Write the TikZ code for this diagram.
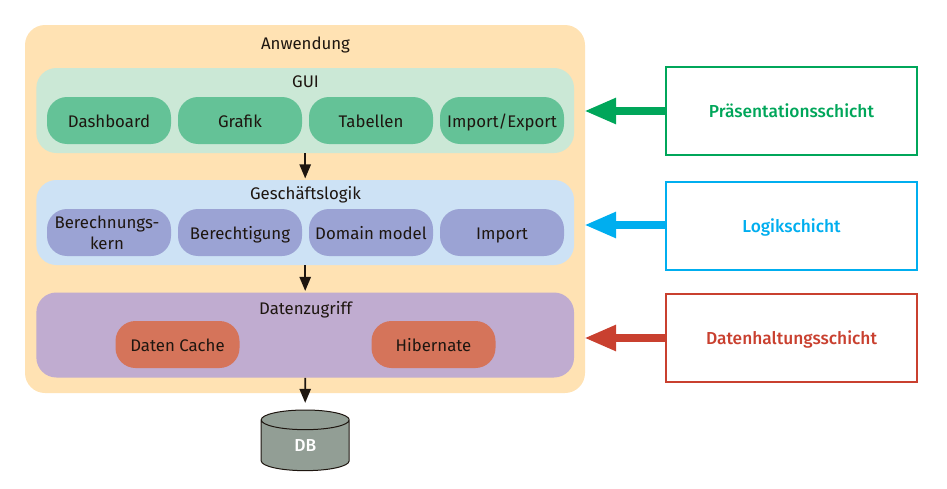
\documentclass[tikz,border=0pt]{standalone}
\usepackage{fontspec}
\setmainfont{Fira Sans}
\usetikzlibrary{arrows.meta,shapes.geometric}
\definecolor{appFill}{HTML}{FFE2B3}
\definecolor{guiFill}{HTML}{CBE8D6}
\definecolor{guiBox}{HTML}{64C297}
\definecolor{logicFill}{HTML}{CDE2F5}
\definecolor{logicBox}{HTML}{9BA3D4}
\definecolor{dataFill}{HTML}{C0ACD0}
\definecolor{dataBox}{HTML}{D5745A}
\definecolor{dbFill}{HTML}{929E95}
\definecolor{presGreen}{HTML}{00A65A}
\definecolor{logicBlue}{HTML}{00AEEF}
\definecolor{dataRed}{HTML}{C9402F}
\definecolor{inkDark}{HTML}{1E1610}
\begin{document}
\begin{tikzpicture}[
    x=0.75pt,y=-0.75pt,
    font=\fontsize{12.6pt}{16pt}\selectfont,
    layerBox/.style={rectangle,rounded corners=15pt,minimum width=403.25pt,minimum height=63.75pt,inner sep=0pt},
    partBox/.style={rectangle,rounded corners=15pt,minimum width=93pt,minimum height=35.25pt,inner sep=0pt,align=center,text=inkDark},
    partLine/.style={partBox,text height=12.2pt,text depth=2pt},
    titleText/.style={inner sep=0pt,text=inkDark},
    tierBox/.style={rectangle,draw=#1,fill=white,line width=1.5pt,minimum width=188pt,minimum height=65.5pt,inner sep=0pt,text=#1,text height=12pt,text depth=3pt,font=\fontsize{13pt}{16pt}\selectfont\fontspec{Fira Sans Medium}},
    tierArrow/.style={draw=#1,line width=6pt,-{Triangle[length=24pt,width=18pt,fill=#1]}},
    flowArrow/.style={draw=inkDark,line width=1.2pt,-{Triangle[length=10.5pt,width=8.5pt]},shorten >=1pt},
]
\useasboundingbox (0,0) rectangle (947,489);
% container
\node[rectangle,rounded corners=15pt,fill=appFill,minimum width=420pt,minimum height=276pt,inner sep=0pt] (app) at (305,209) {};
\node[titleText] (appTitle) at (305.5,45) {Anwendung};
% layers
\node[layerBox,fill=guiFill] (gui) at (305.2,110.5) {};
\node[layerBox,fill=logicFill] (logic) at (305.2,222.5) {};
\node[layerBox,fill=dataFill] (data) at (305.2,335) {};
\node[titleText] (guiTitle) at (305.5,81.5) {GUI};
\node[titleText] (logicTitle) at (305.5,195) {Geschäftslogik};
\node[titleText] (dataTitle) at (305.5,310) {Datenzugriff};
% parts
\node[partLine,fill=guiBox] (dashboard) at (109,120.5) {Dashboard};
\node[partLine,fill=guiBox] (grafik) at (240,120.5) {Grafik};
\node[partLine,fill=guiBox] (tabellen) at (371,120.5) {Tabellen};
\node[partLine,fill=guiBox] (importExport) at (502,120.5) {Import/Export};
\node[partBox,fill=logicBox] (kern) at (109,232.5) {Berechnungs-\hspace*{3pt}\\kern\hspace*{3pt}};
\node[partLine,fill=logicBox] (rechte) at (240,232.5) {Berechtigung};
\node[partLine,fill=logicBox] (domain) at (371,232.5) {Domain model};
\node[partLine,fill=logicBox] (import) at (502,232.5) {Import};
\node[partLine,fill=dataBox] (cache) at (177.5,344.5) {Daten Cache};
\node[partLine,fill=dataBox] (hibernate) at (433.5,344.5) {Hibernate};
% database
\node[cylinder,shape border rotate=90,aspect=0.9,draw=inkDark,fill=dbFill,line width=0.75pt,minimum width=66pt,minimum height=45.5pt,inner sep=0pt,text=white,font=\fontsize{13pt}{16pt}\selectfont\fontspec{Fira Sans Medium}] (db) at (305.2,445.5) {DB};
% tiers
\node[tierBox=presGreen] (pres) at (791.5,111) {Präsentationsschicht};
\node[tierBox=logicBlue] (logik) at (791.5,226) {Logikschicht};
\node[tierBox=dataRed] (halt) at (791.5,338) {Datenhaltungsschicht};
\coordinate (presEnd) at (584,111);
\coordinate (logikEnd) at (584,225);
\coordinate (haltEnd) at (584,338);
\draw[tierArrow=presGreen] (pres.west) -- (presEnd);
\draw[tierArrow=logicBlue] (logik.west |- logikEnd) -- (logikEnd);
\draw[tierArrow=dataRed] (halt.west) -- (haltEnd);
\draw[flowArrow] (gui.south) -- (logic.north);
\draw[flowArrow] (logic.south) -- (data.north);
\draw[flowArrow,shorten >=5pt] (data.south) -- (db.north);
\end{tikzpicture}
\end{document}
